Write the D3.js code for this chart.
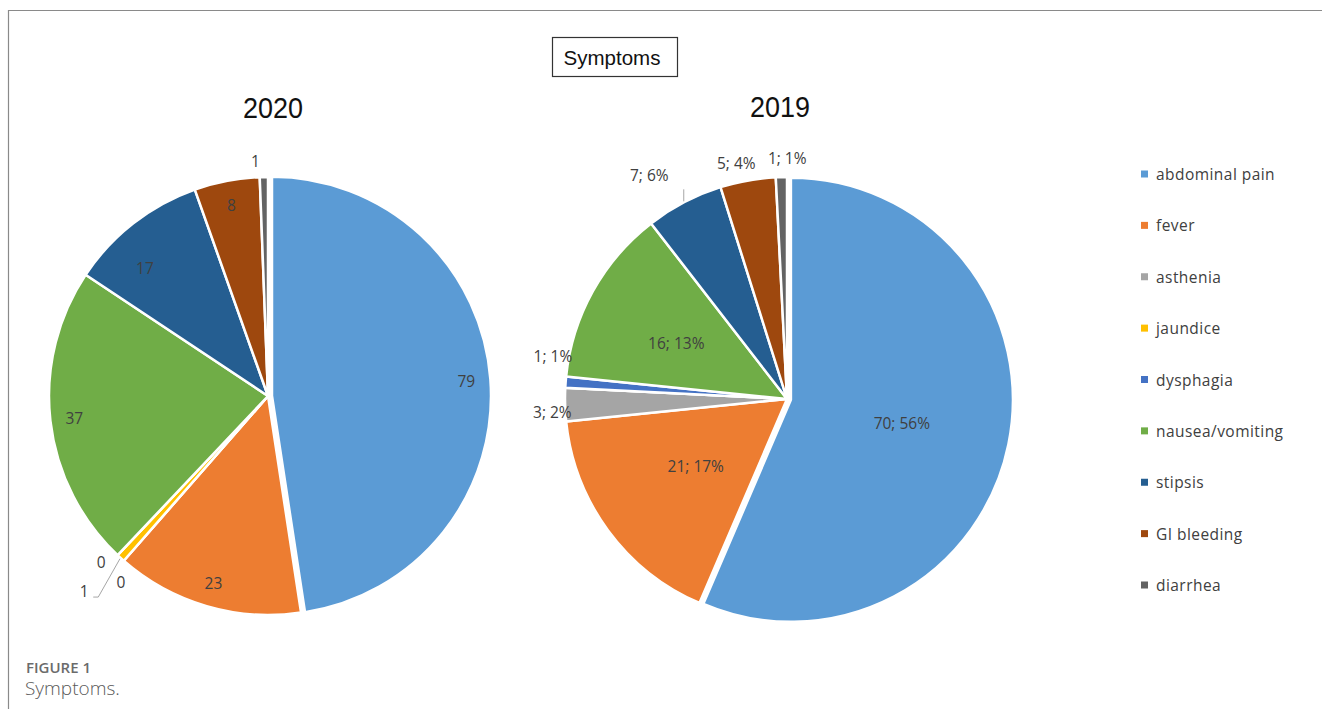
<!DOCTYPE html>
<html>
<head>
<meta charset="utf-8">
<script src="https://cdn.jsdelivr.net/npm/d3@7"></script>
<style>
  html, body { margin: 0; padding: 0; background: #fff; }
  svg { display: block; }
</style>
</head>
<body>
<svg id="chart" width="1322" height="709"></svg>
<script>
// Symptom categories, in slice order (clockwise from 12 o'clock)
const categories = ["abdominal pain", "fever", "asthenia", "jaundice", "dysphagia",
                    "nausea/vomiting", "stipsis", "GI bleeding", "diarrhea"];
const values2020 = [79, 23, 0, 1, 0, 37, 17, 8, 1];
const values2019 = [70, 21, 3, 0, 1, 16, 7, 5, 1];
const colors = ["#5B9BD5", "#ED7D31", "#A5A5A5", "#FFC000", "#4472C4",
                "#70AD47", "#255E91", "#9E480E", "#636363"];
const chartTitle = "Symptoms";
const pieTitles = ["2020", "2019"];
const figureLabel = "FIGURE 1";
const figureCaption = "Symptoms.";

const svg = d3.select("#chart");
const FONT = "'Open Sans', 'Noto Sans', sans-serif";
const TITLE_FONT = "'Liberation Sans', Arial, sans-serif";
const labelColor = "#404040";

// frame lines (top and left)
svg.append("path")
  .attr("d", "M8.5,709 V10.5 H1322")
  .attr("fill", "none").attr("stroke", "#8a8a8a").attr("stroke-width", 1.2);

// boxed chart title
const tb = svg.append("g");
tb.append("rect").attr("x", 552.5).attr("y", 37.5).attr("width", 125).attr("height", 39)
  .attr("fill", "#fff").attr("stroke", "#333").attr("stroke-width", 1.2);
tb.append("text").attr("x", 612).attr("y", 57).attr("text-anchor", "middle")
  .attr("dominant-baseline", "central").attr("font-family", TITLE_FONT).attr("font-size", 21)
  .attr("textLength", 97).attr("lengthAdjust", "spacingAndGlyphs")
  .attr("fill", "#111").text(chartTitle);

// label placement per chart: inside labels at k*r, outside at r+off; da = angular nudge in degrees
const place2020 = {
  default: { mode: "in", k: 0.89 },
  "stipsis": { mode: "in", k: 0.81, da: -6 },
  "diarrhea": { mode: "out", off: 16, da: -2 },
  "asthenia": { mode: "out", off: 16, da: 4 },
  "dysphagia": { mode: "out", off: 18, da: -5 },
  "jaundice": { mode: "out", off: 49, da: 1, leader: "elbow" }
};
const place2019 = {
  default: { mode: "in", k: 0.51 },
  "nausea/vomiting": { mode: "in", k: 0.56, da: -2 },
  "asthenia": { mode: "out", off: 13, da: -1.7 },
  "dysphagia": { mode: "out", off: 16, da: 6 },
  "stipsis": { mode: "out", off: 41, da: -4, leader: "vertical" },
  "GI bleeding": { mode: "out", off: 19, da: -2 },
  "diarrhea": { mode: "out", off: 19, da: 1.5 }
};

function drawPie(values, cx, cy, r, title, titleX, titleY, fmt, place, hideZero) {
  const total = d3.sum(values);
  const data = categories.map((c, i) => ({ name: c, value: values[i], color: colors[i] }));
  const pie = d3.pie().sort(null).value(d => d.value);
  const arcs = pie(data);
  const arc = d3.arc().innerRadius(0).outerRadius(r);
  const g = svg.append("g").attr("transform", `translate(${cx},${cy})`);

  svg.append("text").attr("x", titleX).attr("y", titleY).attr("text-anchor", "middle")
    .attr("dominant-baseline", "central").attr("font-family", TITLE_FONT).attr("font-size", 30)
    .attr("textLength", 60).attr("lengthAdjust", "spacingAndGlyphs")
    .attr("fill", "#111").text(title);

  // first slice is pulled out slightly
  const explode = 4;
  g.selectAll("path.slice").data(arcs).enter().append("path")
    .attr("class", "slice")
    .attr("d", arc)
    .attr("fill", d => d.data.color)
    .attr("stroke", "#fff").attr("stroke-width", 2.5).attr("stroke-linejoin", "round")
    .attr("transform", (d, i) => {
      if (i !== 0) return null;
      const a = (d.startAngle + d.endAngle) / 2;
      return `translate(${explode * Math.sin(a)},${-explode * Math.cos(a)})`;
    });

  const toRad = Math.PI / 180;
  arcs.forEach((d, i) => {
    if (hideZero && d.value === 0) return;
    const p = Object.assign({}, place.default, place[d.data.name] || {});
    const mid = (d.startAngle + d.endAngle) / 2;
    const a = mid + (p.da || 0) * toRad;
    let dist = p.mode === "in" ? p.k * r : r + p.off;
    if (i === 0) dist += explode;
    const x = dist * Math.sin(a), y = -dist * Math.cos(a);
    if (p.leader) {
      const sx = (r + 1) * Math.sin(mid), sy = -(r + 1) * Math.cos(mid);
      let pts;
      if (p.leader === "elbow") pts = [[sx, sy], [x + 14, y + 6], [x + 9, y + 6]];
      else pts = [[sx, sy], [sx, sy - 12]];
      g.append("path").attr("d", d3.line()(pts)).attr("fill", "none")
        .attr("stroke", "#a6a6a6").attr("stroke-width", 1);
    }
    g.append("text").attr("x", x).attr("y", y)
      .attr("text-anchor", "middle").attr("dominant-baseline", "central")
      .attr("font-family", FONT).attr("font-size", 15.5).attr("fill", labelColor)
      .text(fmt(d.value, total));
  });
}

drawPie(values2020, 268, 396, 219, pieTitles[0], 273, 107, v => `${v}`, place2020, false);
drawPie(values2019, 787, 399, 222, pieTitles[1], 780, 106,
        (v, t) => `${v}; ${Math.round(v / t * 100)}%`, place2019, true);

// legend
const legendY = d3.scalePoint().domain(categories).range([174, 585]);
const lg = svg.append("g");
categories.forEach((c, i) => {
  const y = legendY(c);
  lg.append("rect").attr("x", 1141).attr("y", y - 3.5).attr("width", 7).attr("height", 7)
    .attr("fill", colors[i]);
  lg.append("text").attr("x", 1156).attr("y", y).attr("dominant-baseline", "central")
    .attr("font-family", FONT).attr("font-size", 15.5).attr("fill", labelColor)
    .attr("letter-spacing", 0.45).text(c);
});

// figure caption
svg.append("text").attr("x", 26).attr("y", 673).attr("font-family", FONT)
  .attr("font-size", 15).attr("font-weight", 600).attr("fill", "#6b6b6b").text(figureLabel);
svg.append("text").attr("x", 25).attr("y", 695).attr("font-family", FONT)
  .attr("font-size", 19).attr("font-weight", 300).attr("fill", "#5a5a5a").text(figureCaption);
</script>
</body>
</html>
